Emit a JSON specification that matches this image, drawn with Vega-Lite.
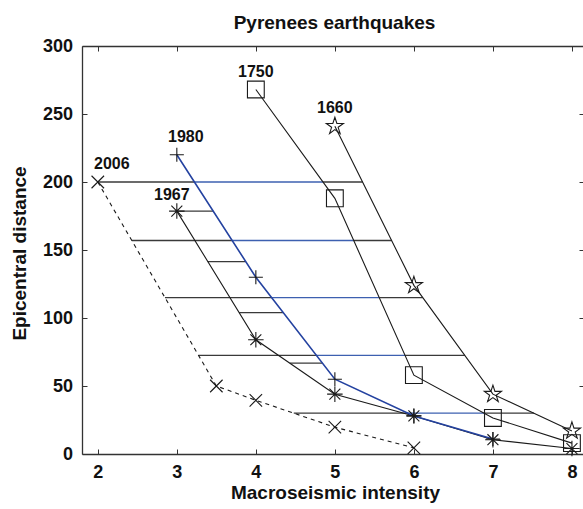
{
  "$schema": "https://vega.github.io/schema/vega-lite/v6.json",
  "width": 501,
  "height": 408,
  "autosize": {"type": "none"},
  "padding": {"left": 82, "top": 46, "right": 0, "bottom": 55},
  "background": "white",
  "title": {
    "text": "Pyrenees earthquakes",
    "font": "Liberation Sans",
    "fontSize": 19,
    "fontWeight": "bold",
    "color": "#111111",
    "anchor": "middle",
    "frame": "group",
    "baseline": "alphabetic",
    "offset": 9,
    "dx": 2,
    "dy": 20
  },
  "datasets": {
    "series": [
      {"year": "2006", "x": 2, "y": 200},
      {"year": "2006", "x": 3.5, "y": 50},
      {"year": "2006", "x": 4, "y": 39.5},
      {"year": "2006", "x": 5, "y": 19.7},
      {"year": "2006", "x": 6, "y": 4.5},
      {"year": "1980", "x": 3, "y": 220},
      {"year": "1980", "x": 4, "y": 130},
      {"year": "1980", "x": 5, "y": 55},
      {"year": "1980", "x": 6, "y": 28},
      {"year": "1980", "x": 7, "y": 11},
      {"year": "1967", "x": 3, "y": 178.6},
      {"year": "1967", "x": 4, "y": 84},
      {"year": "1967", "x": 5, "y": 44},
      {"year": "1967", "x": 6, "y": 28},
      {"year": "1967", "x": 7, "y": 10.5},
      {"year": "1967", "x": 8, "y": 4},
      {"year": "1750", "x": 4, "y": 268},
      {"year": "1750", "x": 5, "y": 188},
      {"year": "1750", "x": 6, "y": 58},
      {"year": "1750", "x": 7, "y": 26.5},
      {"year": "1750", "x": 8, "y": 8},
      {"year": "1660", "x": 5, "y": 241},
      {"year": "1660", "x": 6, "y": 124},
      {"year": "1660", "x": 7, "y": 44},
      {"year": "1660", "x": 8, "y": 17}
    ],
    "links": [
      {"y": 200, "x1": 2, "x2": 3.222, "kind": "black"},
      {"y": 200, "x1": 3.222, "x2": 4.85, "kind": "blue"},
      {"y": 200, "x1": 4.85, "x2": 5.35, "kind": "black"},
      {"y": 157, "x1": 2.43, "x2": 3.7, "kind": "black"},
      {"y": 157, "x1": 3.7, "x2": 5.238, "kind": "blue"},
      {"y": 157, "x1": 5.238, "x2": 5.718, "kind": "black"},
      {"y": 115, "x1": 2.85, "x2": 4.2, "kind": "black"},
      {"y": 115, "x1": 4.2, "x2": 5.562, "kind": "blue"},
      {"y": 115, "x1": 5.562, "x2": 6.112, "kind": "black"},
      {"y": 72.5, "x1": 3.275, "x2": 4.767, "kind": "black"},
      {"y": 72.5, "x1": 4.767, "x2": 5.888, "kind": "blue"},
      {"y": 72.5, "x1": 5.888, "x2": 6.644, "kind": "black"},
      {"y": 30, "x1": 4.48, "x2": 5.926, "kind": "black"},
      {"y": 30, "x1": 5.926, "x2": 6.889, "kind": "blue"},
      {"y": 30, "x1": 6.889, "x2": 7.519, "kind": "black"},
      {"y": 178.6, "x1": 3, "x2": 3.46, "kind": "black"},
      {"y": 141.5, "x1": 3.392, "x2": 3.872, "kind": "black"},
      {"y": 104, "x1": 3.789, "x2": 4.347, "kind": "black"},
      {"y": 66.8, "x1": 4.43, "x2": 4.843, "kind": "black"}
    ],
    "labels": [
      {"label": "2006", "x": 2, "y": 200},
      {"label": "1980", "x": 3, "y": 220},
      {"label": "1967", "x": 3, "y": 178.6},
      {"label": "1750", "x": 4, "y": 268},
      {"label": "1660", "x": 5, "y": 241}
    ]
  },
  "layer": [
    {
      "data": {"name": "links"},
      "mark": {"type": "rule", "strokeWidth": 1.3},
      "encoding": {
        "x": {
          "field": "x1", "type": "quantitative",
          "scale": {"domain": [1.8, 8.14], "nice": false, "zero": false},
          "axis": {
            "orient": "bottom", "values": [2, 3, 4, 5, 6, 7, 8], "format": "d",
            "grid": false, "tickSize": -5, "labelPadding": 14,
            "labelFont": "Liberation Sans", "labelFontSize": 18, "labelFontWeight": "bold", "labelColor": "#111111",
            "labelBaseline": "top", "labelAlign": "center", "labelFlush": false, "labelOverlap": false,
            "domainColor": "#333333", "domainWidth": 1.3, "tickColor": "#333333", "tickWidth": 1,
            "title": "Macroseismic intensity", "titleFont": "Liberation Sans", "titleFontSize": 19,
            "titleFontWeight": "bold", "titleColor": "#111111", "titleX": 253, "titleY": 44,
            "titleBaseline": "alphabetic", "titleAlign": "center"
          }
        },
        "x2": {"field": "x2"},
        "y": {
          "field": "y", "type": "quantitative",
          "scale": {"domain": [0, 300], "nice": false, "zero": false},
          "axis": {
            "orient": "left", "values": [0, 50, 100, 150, 200, 250, 300], "format": "d",
            "grid": false, "tickSize": -5, "labelPadding": 14.5,
            "labelFont": "Liberation Sans", "labelFontSize": 18, "labelFontWeight": "bold", "labelColor": "#111111",
            "labelBaseline": "middle", "labelAlign": "right", "labelFlush": false, "labelOverlap": false,
            "domainColor": "#333333", "domainWidth": 1.3, "tickColor": "#333333", "tickWidth": 1,
            "title": "Epicentral distance", "titleFont": "Liberation Sans", "titleFontSize": 19,
            "titleFontWeight": "bold", "titleColor": "#111111", "titleX": -57, "titleY": 207,
            "titleAngle": 270, "titleBaseline": "alphabetic", "titleAlign": "center"
          }
        },
        "color": {
          "field": "kind", "type": "nominal",
          "scale": {"domain": ["black", "blue"], "range": ["#3a3a3a", "#3d60b0"]},
          "legend": null
        }
      }
    },
    {
      "data": {"name": "series"},
      "transform": [{"filter": "datum.year == '1967' || datum.year == '1750' || datum.year == '1660'"}],
      "mark": {"type": "line", "color": "#1a1a1a", "strokeWidth": 1.1},
      "encoding": {
        "x": {
          "field": "x", "type": "quantitative",
          "scale": {"domain": [1.8, 8.14], "nice": false, "zero": false},
          "axis": {
            "orient": "top", "values": [2, 3, 4, 5, 6, 7, 8], "labels": false, "title": null,
            "grid": false, "tickSize": -5, "domainColor": "#333333", "domainWidth": 1.3,
            "tickColor": "#333333", "tickWidth": 1
          }
        },
        "y": {
          "field": "y", "type": "quantitative",
          "scale": {"domain": [0, 300], "nice": false, "zero": false},
          "axis": {
            "orient": "right", "values": [0, 50, 100, 150, 200, 250, 300], "labels": false, "title": null,
            "grid": false, "domain": false, "tickSize": -4, "tickColor": "#333333", "tickWidth": 1
          }
        },
        "detail": {"field": "year", "type": "nominal"}
      }
    },
    {
      "data": {"name": "series"},
      "transform": [{"filter": "datum.year == '2006'"}],
      "mark": {"type": "line", "color": "#1a1a1a", "strokeWidth": 1.1, "strokeDash": [4, 4]},
      "encoding": {
        "x": {"field": "x", "type": "quantitative", "scale": {"domain": [1.8, 8.14], "nice": false, "zero": false}, "axis": null},
        "y": {"field": "y", "type": "quantitative", "scale": {"domain": [0, 300], "nice": false, "zero": false}, "axis": null}
      }
    },
    {
      "data": {"name": "series"},
      "transform": [{"filter": "datum.year == '1980'"}],
      "mark": {"type": "line", "color": "#2442a0", "strokeWidth": 1.6},
      "encoding": {
        "x": {"field": "x", "type": "quantitative", "scale": {"domain": [1.8, 8.14], "nice": false, "zero": false}, "axis": null},
        "y": {"field": "y", "type": "quantitative", "scale": {"domain": [0, 300], "nice": false, "zero": false}, "axis": null}
      }
    },
    {
      "data": {"name": "series"},
      "mark": {"type": "point", "filled": false, "opacity": 1, "stroke": "#1a1a1a", "strokeWidth": 1.1},
      "encoding": {
        "x": {"field": "x", "type": "quantitative", "scale": {"domain": [1.8, 8.14], "nice": false, "zero": false}, "axis": null},
        "y": {"field": "y", "type": "quantitative", "scale": {"domain": [0, 300], "nice": false, "zero": false}, "axis": null},
        "shape": {
          "field": "year", "type": "nominal",
          "scale": {
            "domain": ["2006", "1980", "1967", "1750", "1660"],
            "range": [
              "M-1,-1L1,1M-1,1L1,-1",
              "M-1,0L1,0M0,-1L0,1",
              "M-1,0L1,0M0,-1L0,1M-0.707,-0.707L0.707,0.707M-0.707,0.707L0.707,-0.707",
              "square",
              "M0,-1L0.225,-0.309L0.951,-0.309L0.363,0.118L0.588,0.809L0,0.382L-0.588,0.809L-0.363,0.118L-0.951,-0.309L-0.225,-0.309Z"
            ]
          },
          "legend": null
        },
        "size": {
          "field": "year", "type": "nominal",
          "scale": {"domain": ["2006", "1980", "1967", "1750", "1660"], "range": [156, 324, 256, 210, 300]},
          "legend": null
        }
      }
    },
    {
      "data": {"name": "labels"},
      "transform": [{"filter": "datum.label == '1750' || datum.label == '1660'"}],
      "mark": {"type": "text", "font": "Liberation Sans", "fontSize": 16, "fontWeight": "bold", "color": "#111111", "align": "center", "baseline": "middle", "dy": -18},
      "encoding": {
        "x": {"field": "x", "type": "quantitative", "scale": {"domain": [1.8, 8.14], "nice": false, "zero": false}, "axis": null},
        "y": {"field": "y", "type": "quantitative", "scale": {"domain": [0, 300], "nice": false, "zero": false}, "axis": null},
        "text": {"field": "label"}
      }
    },
    {
      "data": {"name": "labels"},
      "transform": [{"filter": "datum.label == '1980'"}],
      "mark": {"type": "text", "font": "Liberation Sans", "fontSize": 16, "fontWeight": "bold", "color": "#111111", "align": "center", "baseline": "middle", "dx": 9, "dy": -18},
      "encoding": {
        "x": {"field": "x", "type": "quantitative", "scale": {"domain": [1.8, 8.14], "nice": false, "zero": false}, "axis": null},
        "y": {"field": "y", "type": "quantitative", "scale": {"domain": [0, 300], "nice": false, "zero": false}, "axis": null},
        "text": {"field": "label"}
      }
    },
    {
      "data": {"name": "labels"},
      "transform": [{"filter": "datum.label == '2006'"}],
      "mark": {"type": "text", "font": "Liberation Sans", "fontSize": 16, "fontWeight": "bold", "color": "#111111", "align": "center", "baseline": "middle", "dx": 14, "dy": -18},
      "encoding": {
        "x": {"field": "x", "type": "quantitative", "scale": {"domain": [1.8, 8.14], "nice": false, "zero": false}, "axis": null},
        "y": {"field": "y", "type": "quantitative", "scale": {"domain": [0, 300], "nice": false, "zero": false}, "axis": null},
        "text": {"field": "label"}
      }
    },
    {
      "data": {"name": "labels"},
      "transform": [{"filter": "datum.label == '1967'"}],
      "mark": {"type": "text", "font": "Liberation Sans", "fontSize": 16, "fontWeight": "bold", "color": "#111111", "align": "center", "baseline": "middle", "dx": -5, "dy": -16},
      "encoding": {
        "x": {"field": "x", "type": "quantitative", "scale": {"domain": [1.8, 8.14], "nice": false, "zero": false}, "axis": null},
        "y": {"field": "y", "type": "quantitative", "scale": {"domain": [0, 300], "nice": false, "zero": false}, "axis": null},
        "text": {"field": "label"}
      }
    }
  ],
  "resolve": {"axis": {"x": "independent", "y": "independent"}},
  "config": {"view": {"stroke": null}, "axis": {"grid": false}}
}
